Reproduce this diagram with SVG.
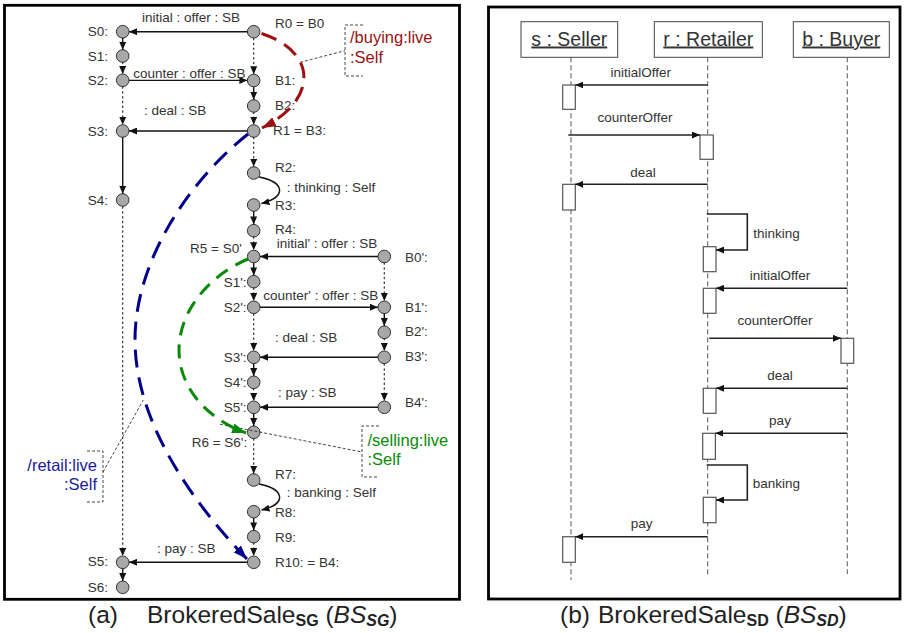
<svg xmlns="http://www.w3.org/2000/svg" width="904" height="633" viewBox="0 0 904 633">
<defs>
<marker id="ah" viewBox="0 0 10 10" refX="10" refY="5" markerWidth="8" markerHeight="7" markerUnits="userSpaceOnUse" orient="auto" preserveAspectRatio="none"><path d="M0,0L10,5L0,10z" fill="#111"/></marker>
<marker id="ahR" viewBox="0 0 10 10" refX="10" refY="5" markerWidth="14" markerHeight="10" markerUnits="userSpaceOnUse" orient="auto" preserveAspectRatio="none"><path d="M0,0L10,5L0,10z" fill="#9b1111"/></marker>
<marker id="ahB" viewBox="0 0 10 10" refX="10" refY="5" markerWidth="14" markerHeight="10" markerUnits="userSpaceOnUse" orient="auto" preserveAspectRatio="none"><path d="M0,0L10,5L0,10z" fill="#00008b"/></marker>
<marker id="ahG" viewBox="0 0 10 10" refX="10" refY="5" markerWidth="14" markerHeight="10" markerUnits="userSpaceOnUse" orient="auto" preserveAspectRatio="none"><path d="M0,0L10,5L0,10z" fill="#088a08"/></marker>
</defs>
<style>
.t{font-family:"Liberation Sans",Arial,sans-serif;font-size:13.5px;fill:#333}
.e{text-anchor:end}
.m{text-anchor:middle}
.n{fill:#a8a8a8;stroke:#333;stroke-width:1}
.s{stroke:#111;stroke-width:1.4;fill:none}
.d{stroke:#333;stroke-width:1.3;stroke-dasharray:1.2 3.6;stroke-linecap:round;fill:none}
.a{marker-end:url(#ah)}
.frame{fill:none;stroke:#000;stroke-width:2.8}
.cl{fill:none;stroke:#333;stroke-width:0.9;stroke-dasharray:3 2}
.ct{font-family:"Liberation Sans",Arial,sans-serif;font-size:16.5px}
.cap{font-family:"Liberation Sans",Arial,sans-serif;font-size:24.5px;fill:#222}
.sub{font-size:16px;font-weight:bold}
.hd{fill:#fff;stroke:#444;stroke-width:1}
.ht{font-family:"Liberation Sans",Arial,sans-serif;font-size:19.5px;fill:#333;text-anchor:middle;text-decoration:underline}
.ll{stroke:#555;stroke-width:1;stroke-dasharray:5 3}
.act{fill:#fff;stroke:#555;stroke-width:1.2}
.msg{stroke:#222;stroke-width:1.6;fill:none;marker-end:url(#ah)}
</style>
<rect width="904" height="633" fill="#fff"/>

<!-- frames -->
<rect class="frame" x="4.5" y="5.3" width="455" height="594"/>
<rect class="frame" x="488.5" y="7" width="411.5" height="592"/>

<!-- ===== Panel (a) nodes ===== -->
<g id="n-S0"><circle class="n" cx="122.7" cy="31.7" r="6.3"/><text class="t e" x="108" y="35.5">S0:</text></g>
<g id="n-S1"><circle class="n" cx="122.7" cy="56" r="6.3"/><text class="t e" x="108" y="60.5">S1:</text></g>
<g id="n-S2"><circle class="n" cx="122.7" cy="80.3" r="6.3"/><text class="t e" x="108" y="85">S2:</text></g>
<g id="n-S3"><circle class="n" cx="122.7" cy="131" r="6.3"/><text class="t e" x="108" y="135.5">S3:</text></g>
<g id="n-S4"><circle class="n" cx="122.7" cy="200" r="6.3"/><text class="t e" x="108" y="204.5">S4:</text></g>
<g id="n-S5"><circle class="n" cx="122.7" cy="562.3" r="6.3"/><text class="t e" x="108" y="566">S5:</text></g>
<g id="n-S6"><circle class="n" cx="122.7" cy="587.3" r="6.3"/><text class="t e" x="108" y="591.5">S6:</text></g>

<g id="n-R0"><circle class="n" cx="253.7" cy="31.7" r="6.3"/><text class="t" x="275" y="28">R0 = B0</text></g>
<g id="n-B1"><circle class="n" cx="253.7" cy="80.5" r="6.3"/><text class="t" x="275" y="85">B1:</text></g>
<g id="n-B2"><circle class="n" cx="253.7" cy="106" r="6.3"/><text class="t" x="275" y="110">B2:</text></g>
<g id="n-R1"><circle class="n" cx="253.7" cy="131" r="6.3"/><text class="t" x="273" y="135">R1 = B3:</text></g>
<g id="n-R2"><circle class="n" cx="253.7" cy="173" r="6.3"/><text class="t" x="275" y="171.7">R2:</text></g>
<g id="n-R3"><circle class="n" cx="253.7" cy="205" r="6.3"/><text class="t" x="275" y="210">R3:</text></g>
<g id="n-R4"><circle class="n" cx="253.7" cy="230.7" r="6.3"/><text class="t" x="275" y="234.3">R4:</text></g>
<g id="n-R5"><circle class="n" cx="253.7" cy="256.5" r="6.3"/><text class="t" x="190" y="253.3">R5 = S0'</text></g>
<g id="n-S1p"><circle class="n" cx="253.7" cy="281.7" r="6.3"/><text class="t e" x="246.5" y="286.7">S1':</text></g>
<g id="n-S2p"><circle class="n" cx="253.7" cy="307.3" r="6.3"/><text class="t e" x="246.5" y="311.7">S2':</text></g>
<g id="n-S3p"><circle class="n" cx="253.7" cy="357.3" r="6.3"/><text class="t e" x="246.5" y="361.7">S3':</text></g>
<g id="n-S4p"><circle class="n" cx="253.7" cy="382.3" r="6.3"/><text class="t e" x="246.5" y="386.7">S4':</text></g>
<g id="n-S5p"><circle class="n" cx="253.7" cy="407.3" r="6.3"/><text class="t e" x="246.5" y="411.7">S5':</text></g>
<g id="n-R6"><circle class="n" cx="253.7" cy="432.3" r="6.3"/><text class="t" x="191.7" y="446.7">R6 = S6':</text></g>
<g id="n-R7"><circle class="n" cx="253.7" cy="480" r="6.3"/><text class="t" x="275" y="479">R7:</text></g>
<g id="n-R8"><circle class="n" cx="253.7" cy="511.7" r="6.3"/><text class="t" x="275" y="516.7">R8:</text></g>
<g id="n-R9"><circle class="n" cx="253.7" cy="536.7" r="6.3"/><text class="t" x="275" y="541.5">R9:</text></g>
<g id="n-R10"><circle class="n" cx="253.7" cy="562.3" r="6.3"/><text class="t" x="275" y="567">R10: = B4:</text></g>

<g id="n-B0p"><circle class="n" cx="384.3" cy="256.5" r="6.3"/><text class="t" x="405" y="261.7">B0':</text></g>
<g id="n-B1p"><circle class="n" cx="384.3" cy="307.3" r="6.3"/><text class="t" x="405" y="311.7">B1':</text></g>
<g id="n-B2p"><circle class="n" cx="384.3" cy="332.3" r="6.3"/><text class="t" x="405" y="335.5">B2':</text></g>
<g id="n-B3p"><circle class="n" cx="384.3" cy="357.3" r="6.3"/><text class="t" x="405" y="360.5">B3':</text></g>
<g id="n-B4p"><circle class="n" cx="384.3" cy="407.3" r="6.3"/><text class="t" x="405" y="407">B4':</text></g>

<!-- callouts -->
<g id="callout-buying">
<path class="cl" d="M363,25H345V76H363"/>
<text class="ct" fill="#9b1111" x="350" y="43.3">/buying:live</text>
<text class="ct" fill="#9b1111" x="350" y="63.3">:Self</text>
</g>
<g id="callout-selling">
<path class="cl" d="M379,426H362V477H379"/>
<text class="ct" fill="#088a08" x="367.5" y="446">/selling:live</text>
<text class="ct" fill="#088a08" x="367.5" y="465">:Self</text>
</g>
<g id="callout-retail">
<path class="cl" d="M87,451H103V502H87"/>
<text class="ct e" fill="#1a1a9a" x="97" y="470.7">/retail:live</text>
<text class="ct e" fill="#1a1a9a" x="97" y="490">:Self</text>
</g>

<!-- ===== Panel (a) connectors ===== -->
<g id="connectors-a">
<!-- S column -->
<line class="s a" x1="122.7" y1="38" x2="122.7" y2="49.7"/>
<line class="d a" x1="122.7" y1="62.3" x2="122.7" y2="74"/>
<line class="d a" x1="122.7" y1="87" x2="122.7" y2="124.7"/>
<line class="s a" x1="122.7" y1="137.3" x2="122.7" y2="193.7"/>
<line class="d a" x1="122.7" y1="207" x2="122.7" y2="556"/>
<line class="s a" x1="122.7" y1="568.6" x2="122.7" y2="581"/>
<!-- R column -->
<line class="d a" x1="253.7" y1="38.5" x2="253.7" y2="74.2"/>
<line class="s a" x1="253.7" y1="86.8" x2="253.7" y2="99.7"/>
<line class="d a" x1="253.7" y1="112.3" x2="253.7" y2="124.7"/>
<line class="d a" x1="253.7" y1="137.5" x2="253.7" y2="166.7"/>
<path class="s a" d="M259,177C285,182 287,197 261.5,203.5"/>
<line class="s a" x1="253.7" y1="211.3" x2="253.7" y2="224.4"/>
<line class="d a" x1="253.7" y1="237" x2="253.7" y2="250.2"/>
<line class="s a" x1="253.7" y1="262.8" x2="253.7" y2="275.4"/>
<line class="d a" x1="253.7" y1="288" x2="253.7" y2="301"/>
<line class="d a" x1="253.7" y1="314" x2="253.7" y2="351"/>
<line class="s a" x1="253.7" y1="363.6" x2="253.7" y2="376"/>
<line class="d a" x1="253.7" y1="388.6" x2="253.7" y2="401"/>
<line class="s a" x1="253.7" y1="413.6" x2="253.7" y2="426"/>
<line class="d a" x1="253.7" y1="439" x2="253.7" y2="473.7"/>
<path class="s a" d="M259,484C285,489 287,504 261.5,510"/>
<line class="s a" x1="253.7" y1="518" x2="253.7" y2="530.4"/>
<line class="d a" x1="253.7" y1="543" x2="253.7" y2="556"/>
<!-- B' column -->
<line class="d a" x1="384.3" y1="263" x2="384.3" y2="301"/>
<line class="s a" x1="384.3" y1="313.6" x2="384.3" y2="326"/>
<line class="d a" x1="384.3" y1="338.6" x2="384.3" y2="351"/>
<line class="d a" x1="384.3" y1="364" x2="384.3" y2="401"/>
<!-- horizontal messages -->
<line class="s a" x1="247.4" y1="31.7" x2="129" y2="31.7"/>
<line class="s a" x1="129" y1="80.4" x2="247.4" y2="80.4"/>
<line class="s a" x1="247.4" y1="131" x2="129" y2="131"/>
<line class="s a" x1="378" y1="256.5" x2="260" y2="256.5"/>
<line class="s a" x1="260" y1="307.3" x2="378" y2="307.3"/>
<line class="s a" x1="378" y1="357.3" x2="260" y2="357.3"/>
<line class="s a" x1="378" y1="407.3" x2="260" y2="407.3"/>
<line class="s a" x1="247.4" y1="562.3" x2="129" y2="562.3"/>
<!-- edge labels -->
<text class="t" x="142" y="22">initial : offer : SB</text>
<text class="t" x="133.3" y="77.5">counter : offer : SB</text>
<text class="t" x="144" y="115">: deal : SB</text>
<text class="t" x="286.7" y="191.5">: thinking : Self</text>
<text class="t" x="276.7" y="248.3">initial' : offer : SB</text>
<text class="t" x="263.3" y="300">counter' : offer : SB</text>
<text class="t" x="275" y="341.7">: deal : SB</text>
<text class="t" x="278" y="397.3">: pay : SB</text>
<text class="t" x="286.7" y="497.3">: banking : Self</text>
<text class="t" x="157" y="553.3">: pay : SB</text>
<!-- callout leaders -->
<line class="cl" x1="300" y1="62.3" x2="345" y2="50.7"/>
<line class="cl" x1="220" y1="424.3" x2="362" y2="452"/>
<line class="cl" x1="103" y1="472" x2="143.3" y2="400"/>
<!-- live dashed curves -->
<path d="M261.5,33.5C318,52 318,100 262,128" fill="none" stroke="#9b1111" stroke-width="3" stroke-dasharray="16 9" marker-end="url(#ahR)"/>
<path d="M248,134C190,180 135,260 135,340C135,420 190,500 247,559" fill="none" stroke="#00008b" stroke-width="3" stroke-dasharray="18 10" marker-end="url(#ahB)"/>
<path d="M248,259C210,275 179,310 179,350C179,390 210,420 246,433" fill="none" stroke="#088a08" stroke-width="3" stroke-dasharray="14 9" marker-end="url(#ahG)"/>
</g>

<!-- ===== Panel (b) ===== -->
<g id="n-seller">
<rect class="hd" x="521" y="21.7" width="96.7" height="35.6"/>
<text class="ht" x="569.3" y="45.5">s : Seller</text>
<line class="ll" x1="571" y1="57.3" x2="571" y2="580"/>
<rect class="act" x="562.7" y="85" width="12.6" height="24.3"/>
<rect class="act" x="562.7" y="184.3" width="12.6" height="25.7"/>
<rect class="act" x="562.7" y="536.7" width="12.6" height="25.6"/>
</g>
<g id="n-retailer">
<rect class="hd" x="654.3" y="21.7" width="108" height="35.6"/>
<text class="ht" x="708.3" y="45.5">r : Retailer</text>
<line class="ll" x1="707.7" y1="57.3" x2="707.7" y2="577"/>
<rect class="act" x="700" y="135" width="13.3" height="24.3"/>
<rect class="act" x="703.3" y="246.7" width="12.7" height="25"/>
<rect class="act" x="703.3" y="288.3" width="12.7" height="25"/>
<rect class="act" x="703.3" y="388.3" width="12.7" height="25"/>
<rect class="act" x="702.7" y="433.3" width="12.7" height="26"/>
<rect class="act" x="703.3" y="497.3" width="12.7" height="25.4"/>
</g>
<g id="n-buyer">
<rect class="hd" x="793.3" y="21.7" width="96" height="35.6"/>
<text class="ht" x="841.3" y="45.5">b : Buyer</text>
<line class="ll" x1="847.3" y1="57.3" x2="847.3" y2="574"/>
<rect class="act" x="841" y="338.3" width="12.7" height="25"/>
</g>

<g id="connectors-b">
<line class="msg" x1="707.7" y1="85" x2="575.3" y2="85"/>
<line class="msg" x1="568.3" y1="135" x2="700" y2="135"/>
<line class="msg" x1="707.7" y1="184.3" x2="575.3" y2="184.3"/>
<path class="msg" d="M706.7,214H747.3V250H716"/>
<line class="msg" x1="847.3" y1="288.3" x2="716" y2="288.3"/>
<line class="msg" x1="709.3" y1="338.3" x2="841" y2="338.3"/>
<line class="msg" x1="847.3" y1="388.3" x2="716" y2="388.3"/>
<line class="msg" x1="847.3" y1="433.3" x2="715.4" y2="433.3"/>
<path class="msg" d="M706.7,465H747.3V500H716"/>
<line class="msg" x1="707.7" y1="536.7" x2="575.3" y2="536.7"/>
<text class="t m" x="640.7" y="77.3">initialOffer</text>
<text class="t m" x="635" y="121.7">counterOffer</text>
<text class="t m" x="643" y="176.7">deal</text>
<text class="t" x="753.3" y="238.3">thinking</text>
<text class="t m" x="780" y="280">initialOffer</text>
<text class="t m" x="775" y="325">counterOffer</text>
<text class="t m" x="780" y="380">deal</text>
<text class="t m" x="780" y="425">pay</text>
<text class="t" x="752.7" y="488.3">banking</text>
<text class="t m" x="641.7" y="528.3">pay</text>
</g>

<!-- captions -->
<text class="cap" x="88" y="623">(a)</text>
<text class="cap" x="147" y="623">BrokeredSale<tspan class="sub" dy="3">SG</tspan><tspan dy="-3"> (</tspan><tspan font-style="italic">BS</tspan><tspan class="sub" font-style="italic" dy="3">SG</tspan><tspan dy="-3">)</tspan></text>
<text class="cap" x="560" y="623">(b)</text>
<text class="cap" x="598" y="623">BrokeredSale<tspan class="sub" dy="3">SD</tspan><tspan dy="-3"> (</tspan><tspan font-style="italic">BS</tspan><tspan class="sub" font-style="italic" dy="3">SD</tspan><tspan dy="-3">)</tspan></text>
</svg>
